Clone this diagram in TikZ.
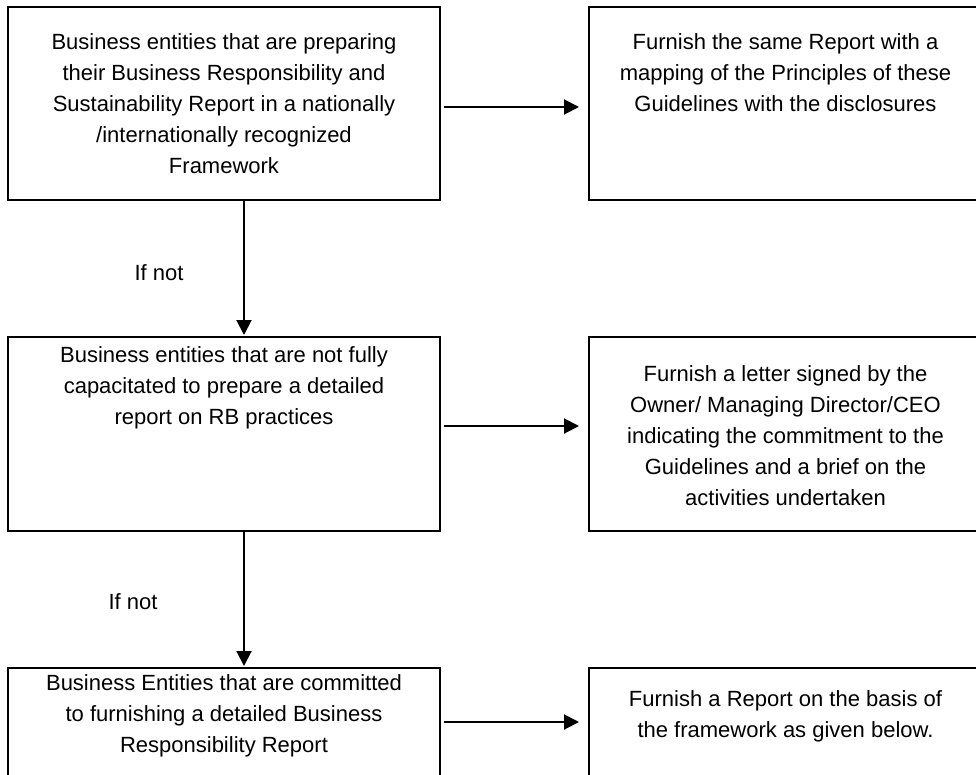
\documentclass[tikz,border=0pt]{standalone}
\usepackage{fontspec}
\setmainfont{Liberation Sans}
\usetikzlibrary{arrows.meta}
\begin{document}
\begin{tikzpicture}[x=1pt,y=-1pt,
  box/.style={draw, line width=2pt, inner sep=0pt},
  txt/.style={align=center, font=\fontsize{22}{31}\selectfont, inner sep=0pt},
  arr/.style={line width=2pt, -{Triangle[length=15pt,width=15pt]}}]
\useasboundingbox (0,0) rectangle (976,774);
% boxes
\node[box, minimum width=432pt, minimum height=193pt] (b1) at (224,103.5) {};
\node[box, minimum width=393pt, minimum height=193pt] (b4) at (785.5,103.5) {};
\node[box, minimum width=432pt, minimum height=194pt] (b2) at (224,434) {};
\node[box, minimum width=393pt, minimum height=194pt] (b5) at (785.5,434) {};
\node[box, minimum width=432pt, minimum height=194pt] (b3) at (224,765) {};
\node[box, minimum width=393pt, minimum height=194pt] (b6) at (785.5,765) {};
% texts
\node[txt] (t1) at (224,104) {Business entities that are preparing\\their Business Responsibility and\\Sustainability Report in a nationally\\/internationally recognized\\Framework};
\node[txt] (t4) at (785.5,73) {Furnish the same Report with a\\mapping of the Principles of these\\Guidelines with the disclosures};
\node[txt] (t2) at (224,388) {Business entities that are not fully\\capacitated to prepare a detailed\\report on RB practices};
\node[txt] (t5) at (785.5,436) {Furnish a letter signed by the\\Owner/ Managing Director/CEO\\indicating the commitment to the\\Guidelines and a brief on the\\activities undertaken};
\node[txt] (t3) at (224,716) {Business Entities that are committed\\to furnishing a detailed Business\\Responsibility Report};
\node[txt] (t6) at (785.5,716) {Furnish a Report on the basis of\\the framework as given below.};
\node[txt] (l1) at (159,273) {If not};
\node[txt] (l2) at (133,602) {If not};
% connectors
\draw[arr, shorten <=3pt, shorten >=9pt] (b1.east |- 0,107) -- (b4.west |- 0,107);
\draw[arr, shorten <=3pt, shorten >=9pt] (b2.east |- 0,426) -- (b5.west |- 0,426);
\draw[arr, shorten <=3pt, shorten >=9pt] (b3.east |- 0,722) -- (b6.west |- 0,722);
\draw[arr, shorten >=1pt] (b1.south -| 244,0) -- (b2.north -| 244,0);
\draw[arr, shorten >=1pt] (b2.south -| 244,0) -- (b3.north -| 244,0);
\end{tikzpicture}
\end{document}
